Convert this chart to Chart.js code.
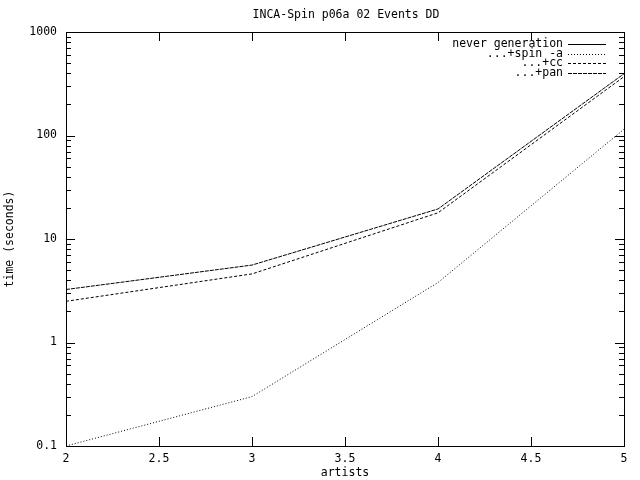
<!DOCTYPE html>
<html><head><meta charset="utf-8">
<script src="https://cdn.jsdelivr.net/npm/chart.js@4/dist/chart.umd.min.js"></script>
<style>html,body{margin:0;padding:0;background:#fff}canvas{display:block}</style>
</head><body>
<canvas id="c" width="640" height="480"></canvas>
<script>
const titleText = "INCA-Spin p06a 02 Events DD";
const xLabel = "artists";
const yLabel = "time (seconds)";
const artists = [2, 3, 4, 5];
const neverGeneration = [];
const spinA = [0.1, 0.3, 3.8, 115];
const cc = [2.5, 4.6, 17.9, 370];
const pan = [3.25, 5.6, 19.5, 395];
const seriesNames = ["never generation", "...+spin -a", "...+cc", "...+pan"];
const xTicks = [2, 2.5, 3, 3.5, 4, 4.5, 5];
const xTickLabels = ["2", "2.5", "3", "3.5", "4", "4.5", "5"];
const yTicks = [0.1, 1, 10, 100, 1000];
const yTickLabels = ["0.1", "1", "10", "100", "1000"];

const FONT = "11.5px 'DejaVu Sans Mono', monospace";
const dashes = [[], [1, 2], [3, 2], [4, 1]];

function toPts(arr) { return arr.map((v, i) => ({x: artists[i], y: v})); }
const allSeries = [neverGeneration, spinA, cc, pan];

const gnuplotPlugin = {
  id: 'gnuplot',
  afterDatasetsDraw(chart) {
    const ctx = chart.ctx, a = chart.chartArea;
    const xs = chart.scales.x, ys = chart.scales.y;
    ctx.save();
    ctx.strokeStyle = '#000'; ctx.lineWidth = 1; ctx.setLineDash([]);
    // frame
    ctx.strokeRect(Math.round(a.left) + 0.5, Math.round(a.top) + 0.5, Math.round(a.right - a.left), Math.round(a.bottom - a.top));
    ctx.beginPath();
    // x ticks
    xTicks.forEach(v => {
      const px = Math.round(xs.getPixelForValue(v)) + 0.5;
      ctx.moveTo(px, a.bottom); ctx.lineTo(px, a.bottom - 9);
      ctx.moveTo(px, a.top); ctx.lineTo(px, a.top + 9);
    });
    // y ticks major + minor
    for (let d = 0; d < yTicks.length; d++) {
      const base = yTicks[d];
      let py = Math.round(ys.getPixelForValue(base)) + 0.5;
      ctx.moveTo(a.left, py); ctx.lineTo(a.left + 9, py);
      ctx.moveTo(a.right, py); ctx.lineTo(a.right - 9, py);
      if (d < yTicks.length - 1) {
        for (let m = 2; m <= 9; m++) {
          py = Math.round(ys.getPixelForValue(base * m)) + 0.5;
          ctx.moveTo(a.left, py); ctx.lineTo(a.left + 5, py);
          ctx.moveTo(a.right, py); ctx.lineTo(a.right - 5, py);
        }
      }
    }
    ctx.stroke();
    // labels
    ctx.fillStyle = '#000'; ctx.font = FONT;
    ctx.textBaseline = 'middle';
    ctx.textAlign = 'right';
    yTicks.forEach((v, i) => ctx.fillText(yTickLabels[i], a.left - 9, ys.getPixelForValue(v)));
    ctx.textAlign = 'center';
    xTicks.forEach((v, i) => ctx.fillText(xTickLabels[i], xs.getPixelForValue(v), a.bottom + 13));
    ctx.fillText(titleText, (a.left + a.right) / 2 + 1, 15);
    ctx.fillText(xLabel, (a.left + a.right) / 2, 473);
    ctx.save();
    ctx.translate(10, (a.top + a.bottom) / 2);
    ctx.rotate(-Math.PI / 2);
    ctx.fillText(yLabel, 0, 0);
    ctx.restore();
    // legend
    seriesNames.forEach((n, i) => {
      const y = 44 + i * 9.6;
      ctx.textAlign = 'right';
      ctx.fillText(n, 563, y);
      ctx.setLineDash(dashes[i]);
      ctx.beginPath();
      ctx.moveTo(568, Math.round(y) + 0.5); ctx.lineTo(606, Math.round(y) + 0.5);
      ctx.stroke();
    });
    ctx.restore();
  }
};

new Chart(document.getElementById('c'), {
  type: 'line',
  data: {
    datasets: allSeries.map((s, i) => ({
      label: seriesNames[i],
      data: toPts(s),
      borderColor: '#000',
      borderWidth: 1,
      borderDash: dashes[i],
      pointRadius: 0,
      fill: false,
      tension: 0
    }))
  },
  options: {
    responsive: false,
    animation: false,
    layout: {padding: {left: 66, top: 32, right: 16, bottom: 34}},
    plugins: {legend: {display: false}, title: {display: false}, tooltip: {enabled: false}},
    scales: {
      x: {type: 'linear', min: 2, max: 5, display: false},
      y: {type: 'logarithmic', min: 0.1, max: 1000, display: false}
    }
  },
  plugins: [gnuplotPlugin]
});
</script>
</body></html>
